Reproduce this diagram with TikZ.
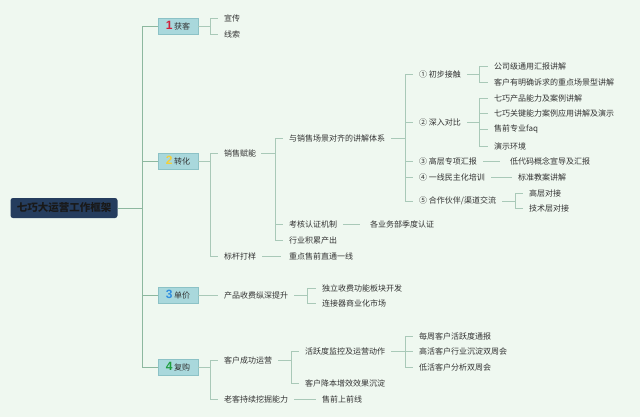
\documentclass[tikz,border=0pt]{standalone}
\usepackage{fontspec}
\setmainfont{Noto Sans CJK SC}
\newfontfamily\numfont{Liberation Sans}
\definecolor{bg}{HTML}{EFF8F0}
\definecolor{trunk}{HTML}{8DB89F}
\definecolor{lnk}{HTML}{A9C9B8}
\definecolor{boxfill}{HTML}{A9D8DC}
\definecolor{boxline}{HTML}{8CC2C6}
\definecolor{rootfill}{HTML}{253D5E}
\definecolor{txt}{HTML}{333333}
\definecolor{nred}{HTML}{D0203A}
\definecolor{nyel}{HTML}{F2CF3C}
\definecolor{nblue}{HTML}{2F8FE0}
\definecolor{ngreen}{HTML}{1E9E3E}
\tikzset{
  leaf/.style={anchor=west,inner sep=0pt,text=txt,font=\fontsize{8}{9.6}\selectfont},
  catbox/.style={draw=boxline,fill=boxfill,line width=0.6pt,minimum width=40pt,minimum height=16pt,inner sep=0pt,text=txt,font=\fontsize{8}{9.6}\selectfont},
  rootbox/.style={fill=rootfill,rounded corners=2.5pt,minimum width=107pt,minimum height=20pt,inner sep=0pt,text=black!90,font=\fontsize{10.5}{12}\selectfont\bfseries},
  tline/.style={draw=trunk,line width=0.8pt},
  conn/.style={draw=lnk,line width=0.6pt},
}
\newcommand{\numlab}[2]{{\numfont\bfseries\fontsize{12}{12}\selectfont\color{#1}#2}\,}
\begin{document}
\begin{tikzpicture}[x=1pt,y=-1pt]
\fill[bg] (0,0) rectangle (640,417);
\useasboundingbox (0,0) rectangle (640,417);

% root and categories
\node[rootbox] (root) at (64,208) {七巧大运营工作框架};
\node[catbox] (g1) at (178,26) {\numlab{nred}{1}获客};
\node[catbox] (g2) at (178,161) {\numlab{nyel}{2}转化};
\node[catbox] (g3) at (178,295) {\numlab{nblue}{3}单价};
\node[catbox] (g4) at (178,367) {\numlab{ngreen}{4}复购};
\coordinate (tr) at (142,208);
\draw[tline] (root.east) -- (tr);
\draw[tline] (tr) |- (g1.west);
\draw[tline] (tr) |- (g2.west);
\draw[tline] (tr) |- (g3.west);
\draw[tline] (tr) |- (g4.west);

% level 2
\node[leaf] (a1) at (224,18) {宣传};
\node[leaf] (a2) at (224,34) {线索};
\node[leaf] (b1) at (224,153) {销售赋能};
\node[leaf] (b2) at (224,256) {标杆打样};
\node[leaf] (c1) at (224,295) {产品收费纵深提升};
\node[leaf] (d1) at (224,360) {客户成功运营};
\node[leaf] (d2) at (224,399) {老客持续挖掘能力};
\coordinate (ja) at (210,26);
\coordinate (jb) at (210,161);
\coordinate (jd) at (210,367);
\draw[conn] (g1.east) -- (ja);
\draw[conn] (ja) |- ([xshift=-6pt]a1.west);
\draw[conn] (ja) |- ([xshift=-6pt]a2.west);
\draw[conn] (g2.east) -- (jb);
\draw[conn] (jb) |- ([xshift=-6pt]b1.west);
\draw[conn] (jb) |- ([xshift=-6pt]b2.west);
\draw[conn] (g3.east) -- ([xshift=-6pt]c1.west);
\draw[conn] (g4.east) -- (jd);
\draw[conn] (jd) |- ([xshift=-6pt]d1.west);
\draw[conn] (jd) |- ([xshift=-6pt]d2.west);

% level 3
\node[leaf] (e1) at (289,138) {与销售场景对齐的讲解体系};
\node[leaf] (e2) at (289,224) {考核认证机制};
\node[leaf] (e3) at (289,240) {行业积累产出};
\node[leaf] (f1) at (289,256) {重点售前直通一线};
\node[leaf] (c11) at (322,288) {独立收费功能板块开发};
\node[leaf] (c12) at (322,303) {连接器商业化市场};
\node[leaf] (h1) at (305,351) {活跃度监控及运营动作};
\node[leaf] (h2) at (305,383) {客户降本增效效果沉淀};
\node[leaf] (i1) at (322,399) {售前上前线};
\coordinate (je) at (275,153);
\coordinate (jc) at (307,295);
\coordinate (jh) at (291,360);
\draw[conn] ([xshift=5pt]b1.east) -- (je);
\draw[conn] (je) |- ([xshift=-6pt]e1.west);
\draw[conn] (je) |- ([xshift=-6pt]e2.west);
\draw[conn] (je) |- ([xshift=-6pt]e3.west);
\draw[conn] ([xshift=6pt]b2.east) -- ([xshift=-8pt]f1.west);
\draw[conn] ([xshift=6pt]c1.east) -- (jc);
\draw[conn] (jc) |- ([xshift=-6pt]c11.west);
\draw[conn] (jc) |- ([xshift=-6pt]c12.west);
\draw[conn] ([xshift=6pt]d1.east) -- (jh);
\draw[conn] (jh) |- ([xshift=-6pt]h1.west);
\draw[conn] (jh) |- ([xshift=-6pt]h2.west);
\draw[conn] ([xshift=6pt]d2.east) -- ([xshift=-6pt]i1.west);

% level 4
\node[leaf] (k1) at (419,74) {① 初步接触};
\node[leaf] (k2) at (419,122) {② 深入对比};
\node[leaf] (k3) at (419,161) {③ 高层专项汇报};
\node[leaf] (k4) at (419,177) {④ 一线民主化培训};
\node[leaf] (k5) at (419,201) {⑤ 合作伙伴/渠道交流};
\node[leaf] (e21) at (370,224) {各业务部季度认证};
\node[leaf] (m1) at (419,336) {每周客户活跃度通报};
\node[leaf] (m2) at (419,351) {高活客户行业沉淀双周会};
\node[leaf] (m3) at (419,367) {低活客户分析双周会};
\coordinate (jk) at (405,138);
\coordinate (jm) at (405,351);
\draw[conn] ([xshift=6pt]e1.east) -- (jk);
\draw[conn] (jk) |- ([xshift=-6pt]k1.west);
\draw[conn] (jk) |- ([xshift=-6pt]k2.west);
\draw[conn] (jk) |- ([xshift=-6pt]k3.west);
\draw[conn] (jk) |- ([xshift=-6pt]k4.west);
\draw[conn] (jk) |- ([xshift=-6pt]k5.west);
\draw[conn] ([xshift=6pt]e2.east) -- ([xshift=-10pt]e21.west);
\draw[conn] ([xshift=6pt]h1.east) -- (jm);
\draw[conn] (jm) |- ([xshift=-6pt]m1.west);
\draw[conn] (jm) |- ([xshift=-6pt]m3.west);
\draw[conn] (jm) -- ([xshift=-6pt]m2.west);

% level 5
\node[leaf] (n1) at (494,66) {公司级通用汇报讲解};
\node[leaf] (n2) at (494,82) {客户有明确诉求的重点场景型讲解};
\node[leaf] (p1) at (494,98) {七巧产品能力及案例讲解};
\node[leaf] (p2) at (494,113) {七巧关键能力案例应用讲解及演示};
\node[leaf] (p3) at (494,129) {售前专业faq};
\node[leaf] (p4) at (494,146) {演示环境};
\node[leaf] (q1) at (510,161) {低代码概念宣导及汇报};
\node[leaf] (r1) at (518,177) {标准教案讲解};
\node[leaf] (s1) at (529,193) {高层对接};
\node[leaf] (s2) at (529,208) {技术层对接};
\coordinate (jn) at (479,74);
\coordinate (jp) at (479,122);
\coordinate (js) at (515,201);
\draw[conn] ([xshift=6pt]k1.east) -- (jn);
\draw[conn] (jn) |- ([xshift=-6pt]n1.west);
\draw[conn] (jn) |- ([xshift=-6pt]n2.west);
\draw[conn] ([xshift=6pt]k2.east) -- (jp);
\draw[conn] (jp) |- ([xshift=-6pt]p1.west);
\draw[conn] (jp) |- ([xshift=-6pt]p2.west);
\draw[conn] (jp) |- ([xshift=-6pt]p3.west);
\draw[conn] (jp) |- ([xshift=-6pt]p4.west);
\draw[conn] ([xshift=6pt]k3.east) -- ([xshift=-10pt]q1.west);
\draw[conn] ([xshift=6pt]k4.east) -- ([xshift=-6pt]r1.west);
\draw[conn] ([xshift=6pt]k5.east) -- (js);
\draw[conn] (js) |- ([xshift=-6pt]s1.west);
\draw[conn] (js) |- ([xshift=-6pt]s2.west);
\end{tikzpicture}
\end{document}
